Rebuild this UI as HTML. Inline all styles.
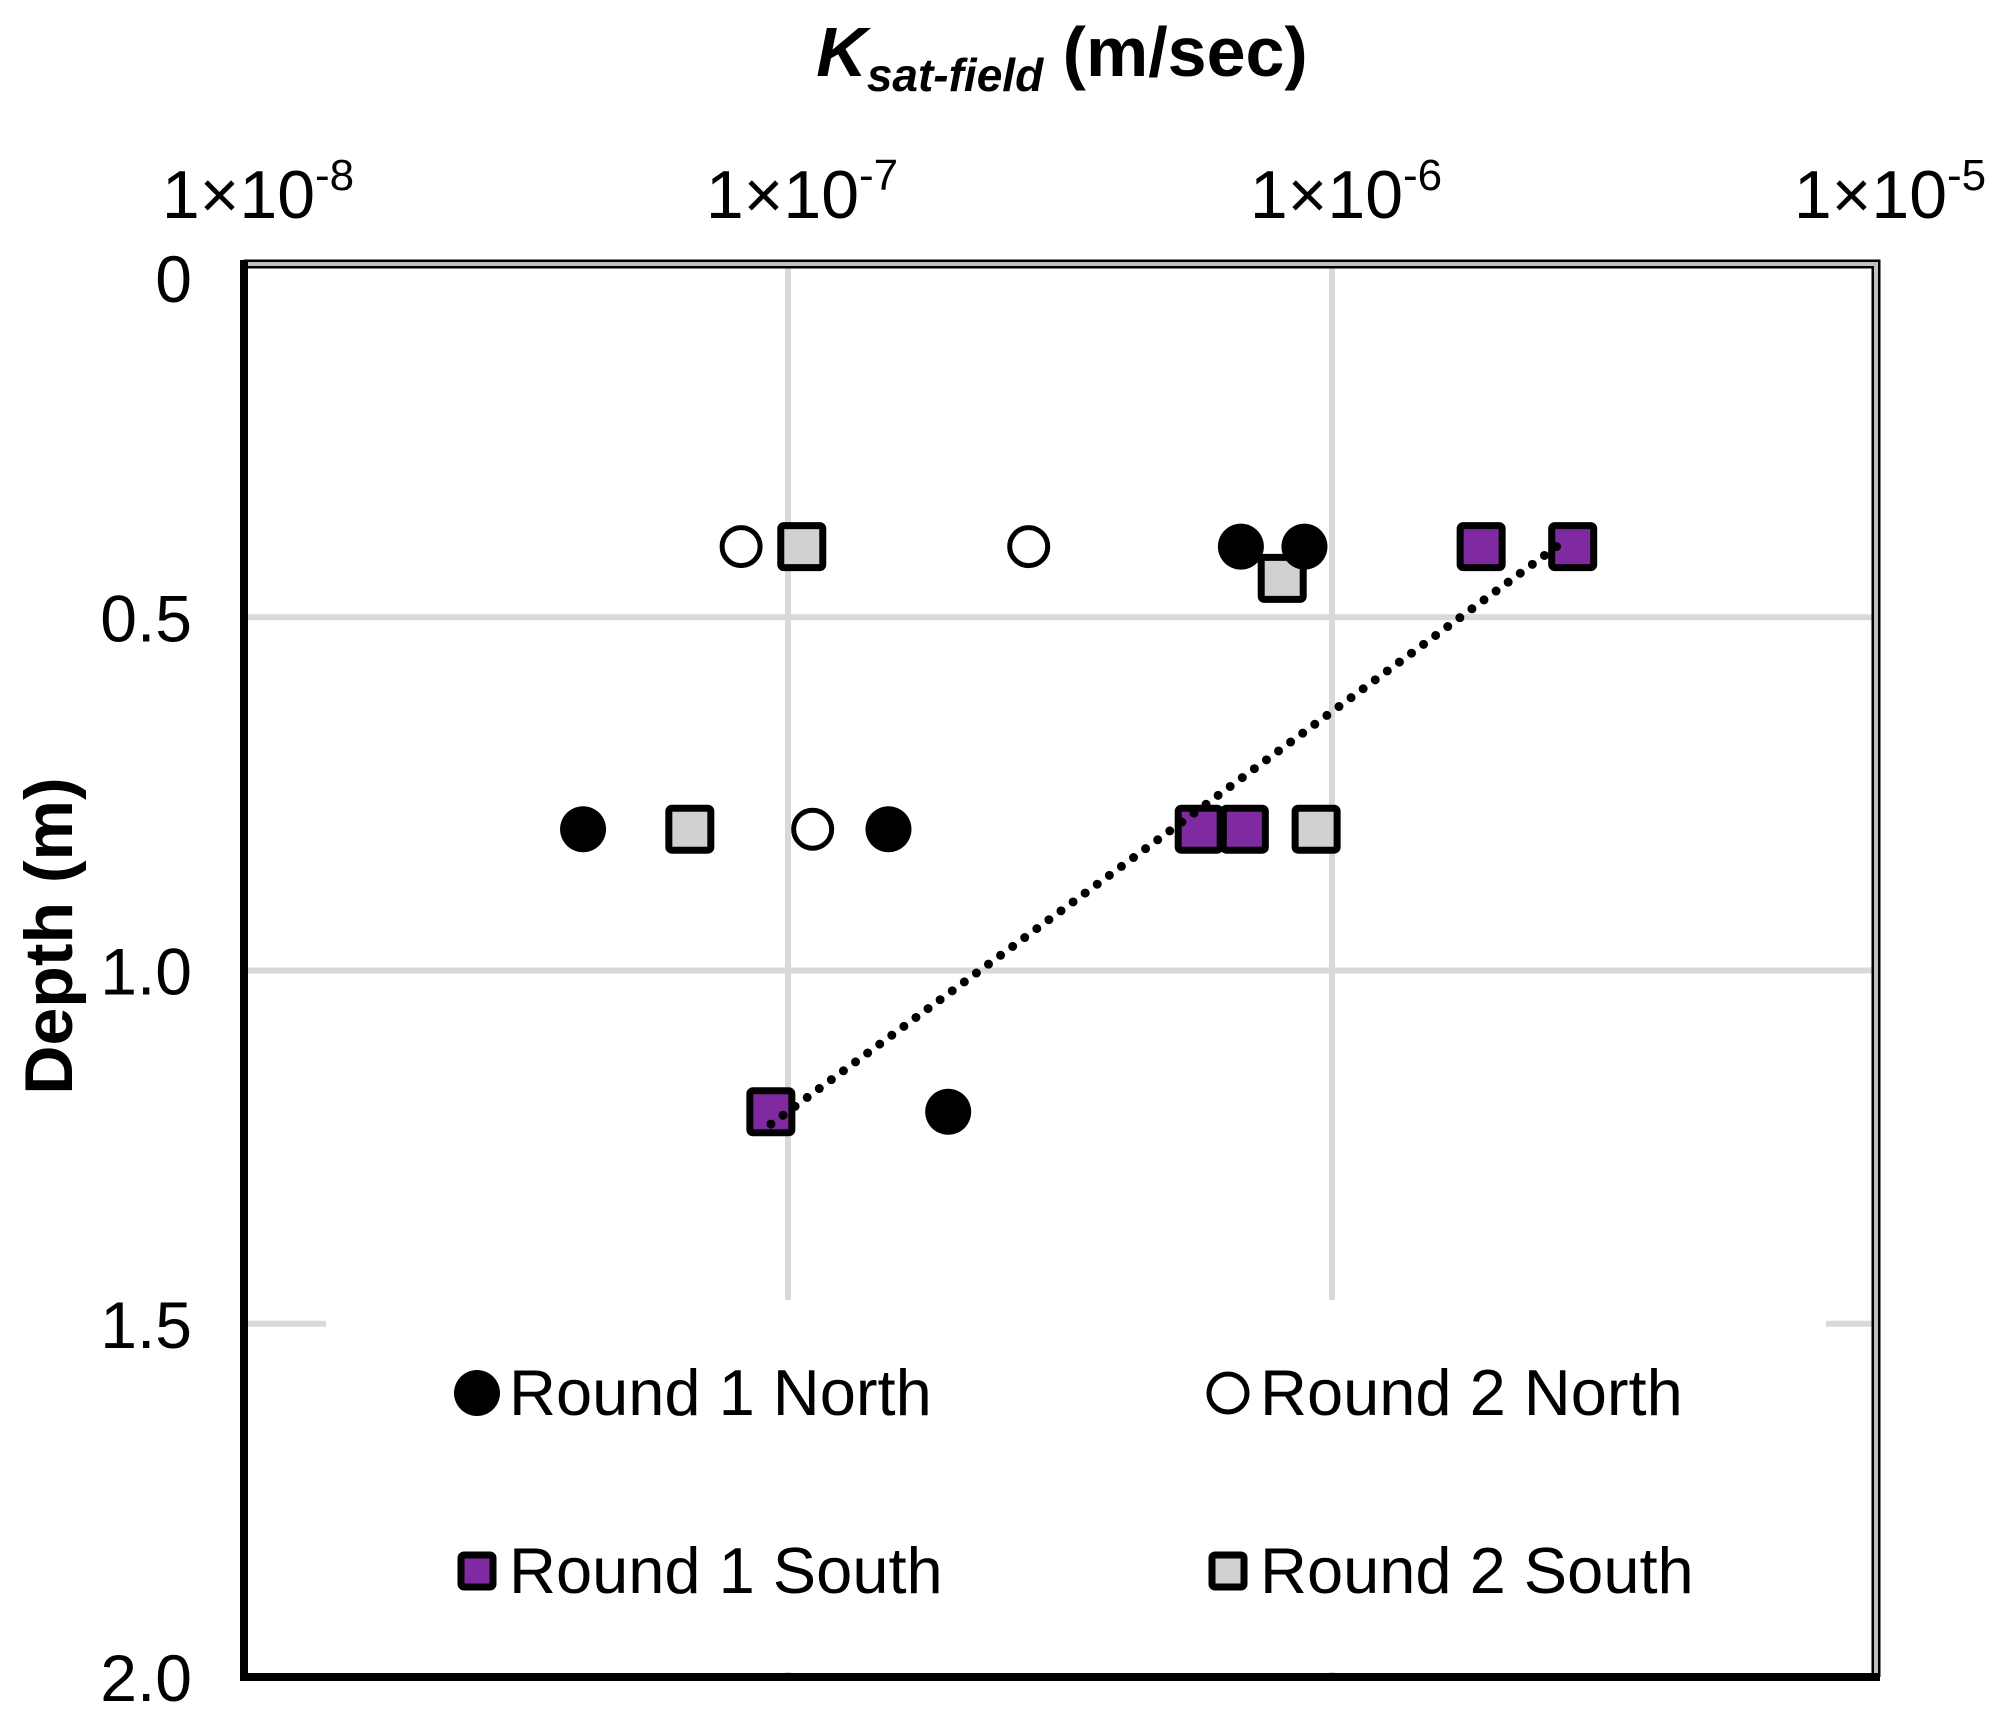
<!DOCTYPE html>
<html><head><meta charset="utf-8"><style>
html,body{margin:0;padding:0;background:#fff;}
svg{display:block;font-family:"Liberation Sans",Arial,sans-serif;}
</style></head><body>
<svg id="chart" width="2010" height="1725" viewBox="0 0 2010 1725">
<text x="1062" y="76" text-anchor="middle" font-size="70" font-weight="bold"><tspan font-style="italic">K</tspan><tspan font-style="italic" font-size="46" dy="15">sat-field</tspan><tspan dy="-15"> (m/sec)</tspan></text>
<text transform="translate(72,936) rotate(-90)" text-anchor="middle" font-size="68" font-weight="bold">Depth (m)</text>
<g id="grid"></g>
<g id="xticks"></g>
<g id="yticks"></g>
<g id="marks"></g>
<g id="legend"></g>
<g id="frame"></g>
</svg>
<script>
const xTickExps = [-8, -7, -6, -5];
const yTicks = [0, 0.5, 1.0, 1.5, 2.0];
const yTickLabels = ["0", "0.5", "1.0", "1.5", "2.0"];
const r1nK = [6.8e-7, 8.9e-7, 4.2e-8, 1.53e-7, 1.97e-7];
const r1nD = [0.4, 0.4, 0.8, 0.8, 1.2];
const r2nK = [8.2e-8, 2.77e-7, 1.11e-7];
const r2nD = [0.4, 0.4, 0.8];
const r1sK = [1.88e-6, 2.77e-6, 5.7e-7, 6.9e-7, 9.3e-8];
const r1sD = [0.4, 0.4, 0.8, 0.8, 1.2];
const r2sK = [1.06e-7, 8.1e-7, 6.6e-8, 9.35e-7];
const r2sD = [0.4, 0.445, 0.8, 0.8];
const legendLabels = ["Round 1 North", "Round 2 North", "Round 1 South", "Round 2 South"];

const NS = "http://www.w3.org/2000/svg";
const L = 244, R = 1876, T = 264, B = 1677;
const xMinE = -8, xMaxE = -5;
function xs(k){ return L + (Math.log10(k) - xMinE) / (xMaxE - xMinE) * (R - L); }
function ys(d){ return T + d / 2.0 * (B - T); }
function mk(tag, attrs, parent){ const e = document.createElementNS(NS, tag); for (const k in attrs) e.setAttribute(k, attrs[k]); parent.appendChild(e); return e; }

const grid = document.getElementById('grid');
xTickExps.slice(1, 3).forEach(e => {
  const g = mk('line', {x1: xs(Math.pow(10, e)), x2: xs(Math.pow(10, e)), y1: T, y2: B, stroke: '#d9d9d9', 'stroke-width': 6}, grid);
  
  
});
yTicks.slice(1, 4).forEach(v => {
  const g = mk('line', {x1: L, x2: R, y1: ys(v), y2: ys(v), stroke: '#d9d9d9', 'stroke-width': 6}, grid);
  
  
});

const xt = document.getElementById('xticks');
xTickExps.forEach(e => {
  const t = mk('text', {x: xs(Math.pow(10, e)) + 14, y: 218, 'text-anchor': 'middle', 'font-size': 68}, xt);
  
  
  t.innerHTML = '1×10<tspan font-size="44" dy="-28">' + String(e) + '</tspan>';
});
const yt = document.getElementById('yticks');
yTicks.forEach((v, i) => {
  const t = mk('text', {x: 192, y: ys(v) + 24 + (i === 0 ? 14 : 0), 'text-anchor': 'end', 'font-size': 66}, yt);
  
  
  t.textContent = yTickLabels[i];
});

const lg = document.getElementById('legend');
mk('rect', {x: 326, y: 1300, width: 1500, height: 372, fill: '#fff'}, lg);

const marks = document.getElementById('marks');
function circle(x, y, filled, parent, name){
  const c = mk('circle', {cx: x, cy: y, r: filled ? 23 : 19, fill: filled ? '#000' : '#fff', stroke: '#000', 'stroke-width': filled ? 0 : 5}, parent);
  
  
}
function square(x, y, fill, parent, name, s){
  s = s || 42;
  const q = mk('rect', {x: x - s/2, y: y - s/2, width: s, height: s, rx: 3, fill: fill, stroke: '#000', 'stroke-width': 7}, parent);
  
  
}
r2sK.forEach((k, i) => square(xs(k), ys(r2sD[i]), '#d2d1cf', marks, 'round2-south-point'));
r1nK.forEach((k, i) => circle(xs(k), ys(r1nD[i]), true, marks, 'round1-north-point'));
r2nK.forEach((k, i) => circle(xs(k), ys(r2nD[i]), false, marks, 'round2-north-point'));
r1sK.forEach((k, i) => square(xs(k), ys(r1sD[i]), '#7f2aa0', marks, 'round1-south-point'));

const n = r1sK.length;
const Ls = r1sK.map(k => Math.log10(k));
const md = r1sD.reduce((a, b) => a + b, 0) / n, mL = Ls.reduce((a, b) => a + b, 0) / n;
let sxy = 0, syy = 0;
for (let i = 0; i < n; i++){ sxy += (r1sD[i] - md) * (Ls[i] - mL); syy += (Ls[i] - mL) ** 2; }
const bDL = sxy / syy;
const dMin = Math.min(...r1sD), dMax = Math.max(...r1sD) + 0.02;
const lAt = d => mL + (d - md) / bDL;
const tl = mk('line', {x1: xs(Math.pow(10, lAt(dMin))), y1: ys(dMin), x2: xs(Math.pow(10, lAt(dMax))) - 12, y2: ys(dMax), stroke: '#000', 'stroke-width': 9, 'stroke-dasharray': '0 15', 'stroke-linecap': 'round'}, marks);



const legPos = [[477, 1393], [1228, 1393], [477, 1571], [1228, 1571]];
legendLabels.forEach((lab, i) => {
  const [x, y] = legPos[i];
  const g = mk('g', {}, lg);
  
  
  if (i === 0) circle(x, y, true, g, 'legend-marker');
  if (i === 1) circle(x, y, false, g, 'legend-marker');
  if (i === 2) square(x, y, '#7f2aa0', g, 'legend-marker', 32);
  if (i === 3) square(x, y, '#d2d1cf', g, 'legend-marker', 32);
  const t = mk('text', {x: x + 32, y: y + 22, 'font-size': 65}, g);
  
  
  t.textContent = lab;
});

const fr = document.getElementById('frame');
mk('path', {d: `M${L} ${T} H${R} V${B}`, fill: 'none', stroke: '#000', 'stroke-width': 9}, fr);
mk('path', {d: `M${L} ${T} H${R} V${B}`, fill: 'none', stroke: '#c0c0c0', 'stroke-width': 4}, fr);
mk('path', {d: `M${L} ${T-4} V${B} H${R+4}`, fill: 'none', stroke: '#000', 'stroke-width': 8}, fr);
</script>
</body></html>
